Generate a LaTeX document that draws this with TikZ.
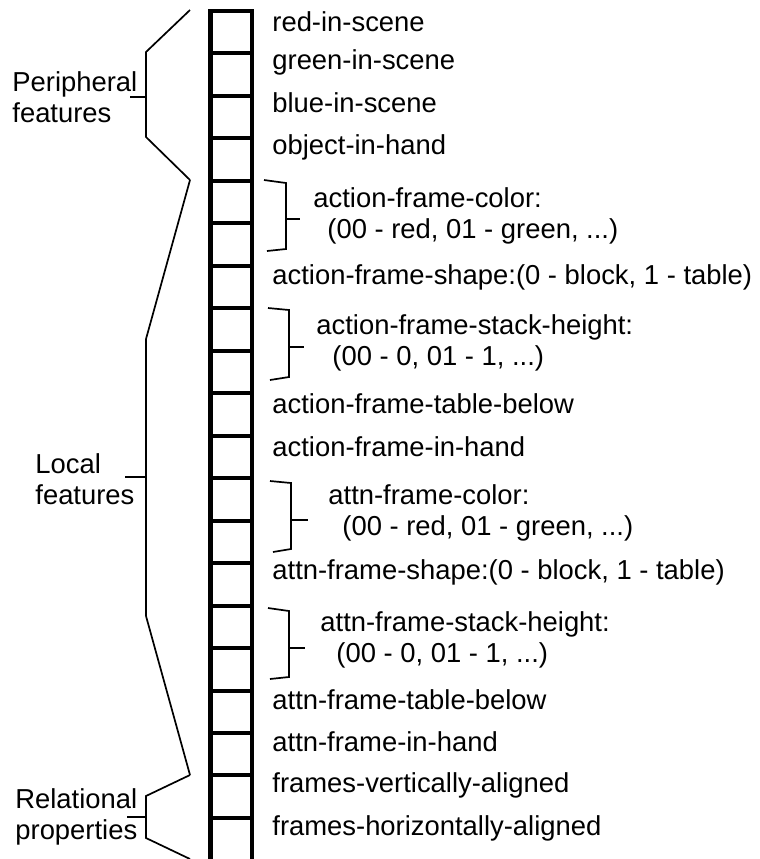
\documentclass[tikz,border=0pt]{standalone}
\usepackage{fontspec}
\setmainfont{Liberation Sans}

\begin{document}
\begin{tikzpicture}[x=0.5pt, y=-0.5pt,
    every node/.style={font=\fontsize{13.7}{15.2}\selectfont},
    feature/.style={anchor=west, inner sep=0pt, align=left},
    cellwall/.style={line width=2.4pt},
    celldiv/.style={line width=2pt},
    brace/.style={line width=0.85pt}]
    \useasboundingbox (0,0) rectangle (760,859);

    % input vector: 20 cells
    \draw[cellwall, miter limit=10] (210.5,859) -- (210.5,11) -- (252,11) -- (252,859);
    \foreach \i in {1,...,19}
        \draw[celldiv] (210.5,{11+42.47*\i}) -- (252,{11+42.47*\i});

    % feature names
    \node[feature] (red)    at (272,22)  {red-in-scene};
    \node[feature] (green)  at (272,62)  {green-in-scene};
    \node[feature] (blue)   at (272,103) {blue-in-scene};
    \node[feature] (inhand) at (272,147) {object-in-hand};
    \node[feature] (acolor) at (313,216) {action-frame-color:\\\hspace*{7pt}(00 - red, 01 - green, ...)};
    \node[feature] (ashape) at (272,277) {action-frame-shape:(0 - block, 1 - table)};
    \node[feature] (astack) at (316,343) {action-frame-stack-height:\\\hspace*{8pt}(00 - 0, 01 - 1, ...)};
    \node[feature] (atable) at (272,404) {action-frame-table-below};
    \node[feature] (ahand)  at (272,447) {action-frame-in-hand};
    \node[feature] (tcolor) at (328,513) {attn-frame-color:\\\hspace*{7pt}(00 - red, 01 - green, ...)};
    \node[feature] (tshape) at (272,572) {attn-frame-shape:(0 - block, 1 - table)};
    \node[feature] (tstack) at (320,640) {attn-frame-stack-height:\\\hspace*{8pt}(00 - 0, 01 - 1, ...)};
    \node[feature] (ttable) at (272,700) {attn-frame-table-below};
    \node[feature] (thand)  at (272,742) {attn-frame-in-hand};
    \node[feature] (vert)   at (272,785) {frames-vertically-aligned};
    \node[feature] (horiz)  at (272,828) {frames-horizontally-aligned};

    % two-cell fields
    \draw[brace] (264,180) -- (286,183) -- (286,249) -- (267,251);
    \draw[brace] (286,219) -- (300,219);
    \draw[brace] (268,308) -- (289,310) -- (289,377) -- (270,380);
    \draw[brace] (289,347) -- (304,347);
    \draw[brace] (270,481) -- (291,483) -- (291,549) -- (273,552);
    \draw[brace] (291,520) -- (308,520);
    \draw[brace] (268,608) -- (289,611) -- (289,677) -- (270,679);
    \draw[brace] (289,648) -- (305,648);

    % groups
    \node[feature] (periph) at (12,97)  {Peripheral\\features};
    \node[feature] (local)  at (35,479) {Local\\features};
    \node[feature] (relat)  at (15,817) {Relational\\properties};

    \draw[brace] (190,10) -- (146,52) -- (146,137) -- (190,180);
    \draw[brace] (146,97) -- (130,97);
    \draw[brace] (190,180) -- (146,339) -- (146,616) -- (190,775);
    \draw[brace] (146,477) -- (125,477);
    \draw[brace] (190,775) -- (146,796) -- (146,838) -- (190,859);
    \draw[brace] (146,817) -- (127,817);
\end{tikzpicture}
\end{document}
